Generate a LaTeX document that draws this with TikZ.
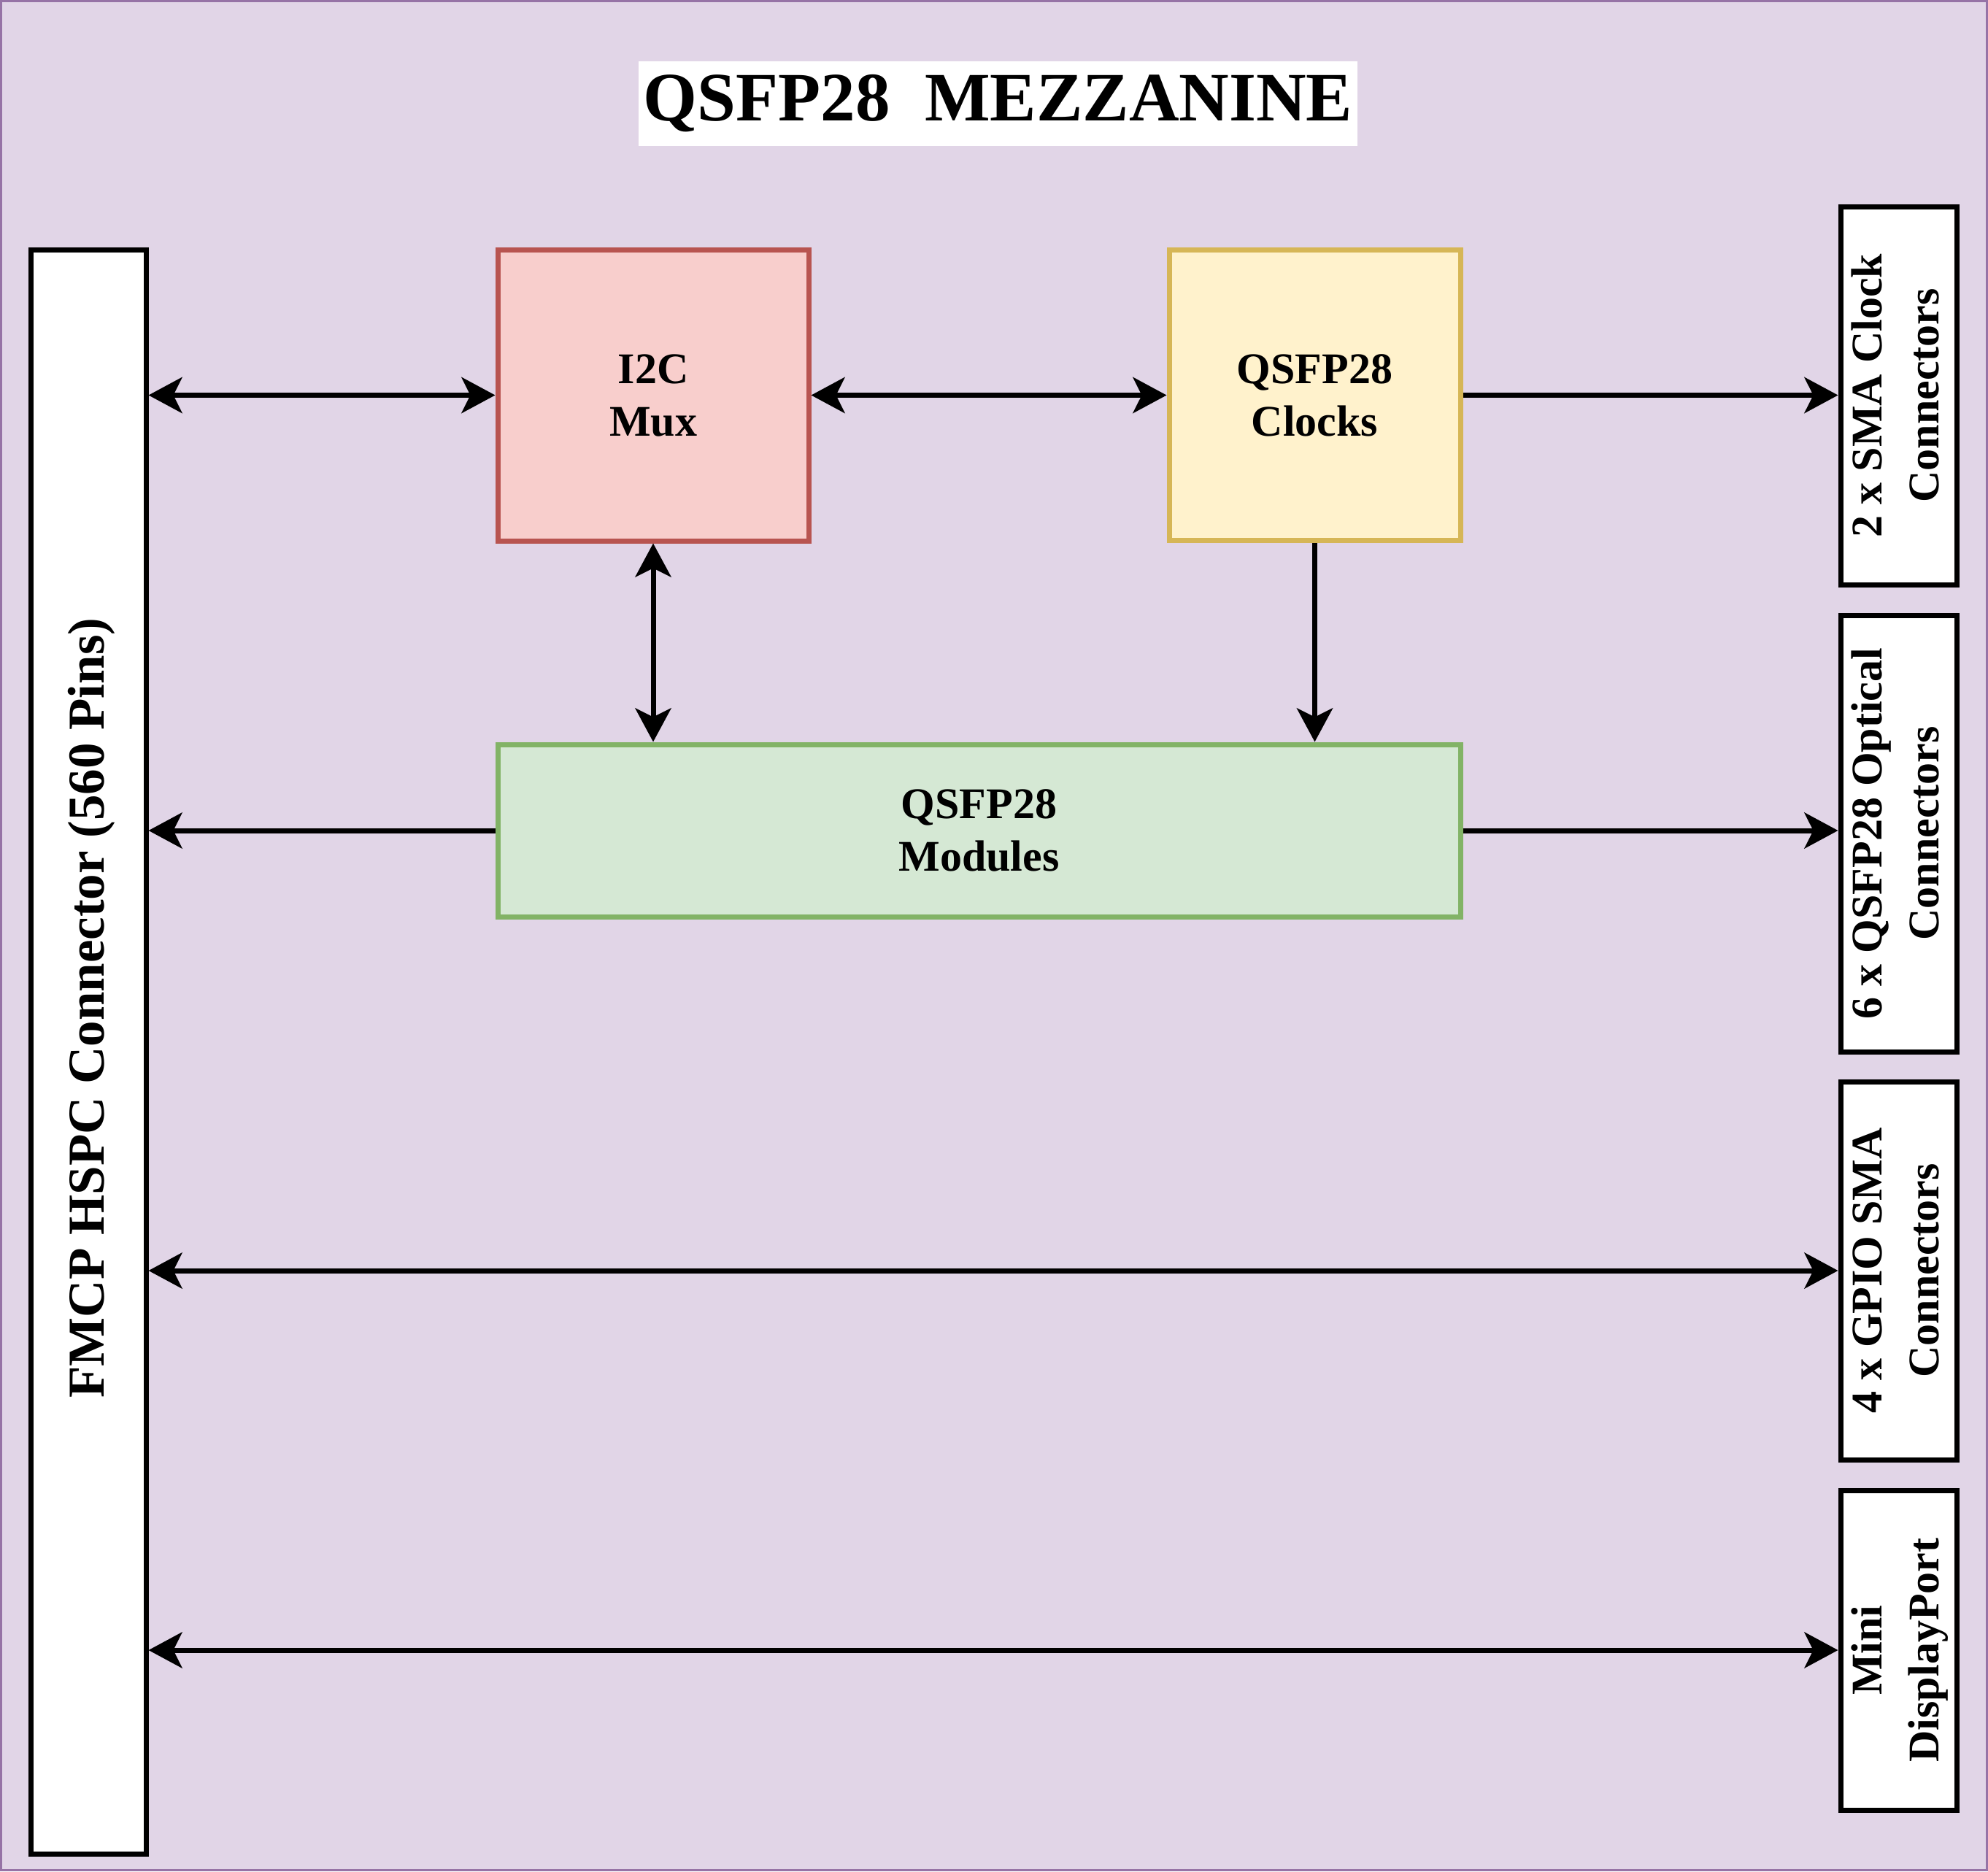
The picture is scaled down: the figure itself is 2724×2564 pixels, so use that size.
\documentclass[tikz,border=0pt]{standalone}
\usepackage{fontspec}
\setmainfont{Liberation Serif}
\usetikzlibrary{arrows.meta}
\definecolor{bgfill}{HTML}{E1D5E7}
\definecolor{bgline}{HTML}{9673A6}
\definecolor{redfill}{HTML}{F8CECC}
\definecolor{redline}{HTML}{B85450}
\definecolor{yelfill}{HTML}{FFF2CC}
\definecolor{yelline}{HTML}{D6B656}
\definecolor{grnfill}{HTML}{D5E8D4}
\definecolor{grnline}{HTML}{82B366}
\begin{document}
\begin{tikzpicture}[x=1pt,y=-1pt,
  blk/.style={draw, line width=7pt, inner sep=0pt, align=center,
    font=\fontsize{60}{72}\selectfont\bfseries},
  port/.style={blk, draw=black, fill=white, minimum width=159pt},
  tip/.tip={Stealth[length=46pt,width=49pt,inset=12pt]},
  conn/.style={line width=7pt, -tip},
  bconn/.style={line width=7pt, tip-tip},
  vtext/.style={font=\fontsize{60}{78}\selectfont\bfseries}
]
\useasboundingbox (0,0) rectangle (2724,2564);
\draw[fill=bgfill, draw=bgline, line width=3pt] (1.5,1.5) rectangle (2722.5,2562.5);

% title
\node[fill=white, minimum width=985pt, minimum height=116pt, inner sep=0pt,
  font=\fontsize{95}{114}\selectfont\bfseries] (title) at (1367.5,142) {QSFP28~~MEZZANINE};

% left connector
\node[blk, draw=black, fill=white, minimum width=158pt, minimum height=2198pt] (fmc) at (121,1441) {};
\node[font=\fontsize{71}{85}\selectfont\bfseries, rotate=90, inner sep=0pt] (fmctext) at (125,1381)
  {FMCP HSPC Connector (560 Pins)};

% blocks
\node[blk, draw=redline, fill=redfill, minimum width=426pt, minimum height=399pt] (i2c) at (895,541.5) {I2C\\Mux};
\node[blk, draw=yelline, fill=yelfill, minimum width=399pt, minimum height=398pt] (clk) at (1801.5,541.5) {QSFP28\\Clocks};
\node[blk, draw=grnline, fill=grnfill, minimum width=1319pt, minimum height=236pt] (mod) at (1341.5,1138) {QSFP28\\Modules};

% right connectors
\node[port, minimum height=518pt] (sma) at (2601.5,542)
  {\rotatebox{90}{\fontsize{60}{78}\selectfont\bfseries\begin{tabular}{@{}c@{}}2 x SMA Clock\\Connectors\end{tabular}}};
\node[port, minimum height=598pt] (opt) at (2601.5,1142)
  {\rotatebox{90}{\fontsize{60}{78}\selectfont\bfseries\begin{tabular}{@{}c@{}}6 x QSFP28 Optical\\Connectors\end{tabular}}};
\node[port, minimum height=518pt] (gpio) at (2601.5,1741)
  {\rotatebox{90}{\fontsize{60}{78}\selectfont\bfseries\begin{tabular}{@{}c@{}}4 x GPIO SMA\\Connectors\end{tabular}}};
\node[port, minimum height=438pt] (dp) at (2601.5,2261)
  {\rotatebox{90}{\fontsize{60}{78}\selectfont\bfseries\begin{tabular}{@{}c@{}}Mini\\DisplayPort\end{tabular}}};

% connectors
\draw[bconn] (fmc.east |- i2c.west) -- (i2c.west);
\draw[bconn] (i2c.east) -- (clk.west);
\draw[conn] (clk.east) -- (sma.west |- clk.east);
\draw[bconn] (i2c.south) -- (i2c.south |- mod.north);
\draw[conn] (clk.south) -- (clk.south |- mod.north);
\draw[conn] (mod.west) -- (fmc.east |- mod.west);
\draw[conn] (mod.east) -- (opt.west |- mod.east);
\draw[bconn] (fmc.east |- gpio.west) -- (gpio.west);
\draw[bconn] (fmc.east |- dp.west) -- (dp.west);
\end{tikzpicture}
\end{document}
